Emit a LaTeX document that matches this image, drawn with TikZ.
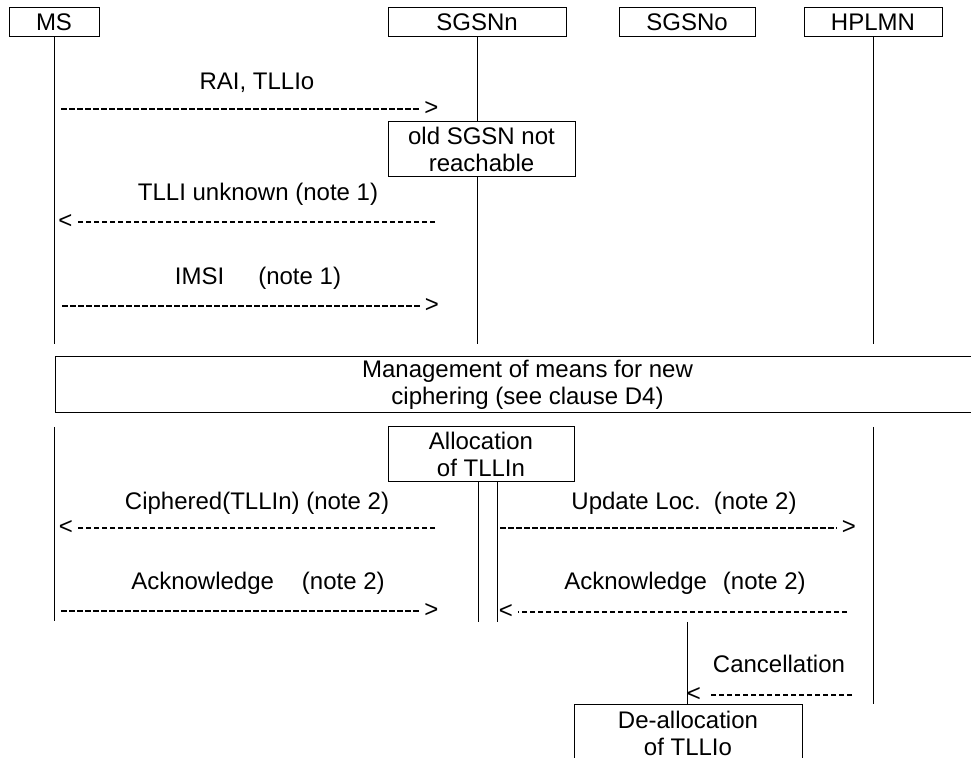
\documentclass[tikz,border=0pt]{standalone}
\usepackage{fontspec}
\setmainfont{Liberation Sans}

\tikzset{
  box/.style={draw, line width=0.5pt, inner sep=0pt, align=center},
  lbl/.style={anchor=base, inner sep=0pt},
  tip/.style={inner xsep=2.5pt, inner ysep=0pt},
  msgline/.style={line width=1pt, dash pattern=on 2.75pt off 1.25pt},
  life/.style={line width=0.5pt}
}

\begin{document}
\begin{tikzpicture}[x=0.5pt, y=-0.5pt, font=\fontsize{12}{13.5}\selectfont]
            \useasboundingbox (0,0) rectangle (971,758);
            \clip (0,0) rectangle (971,758);
            \node[box, minimum width=45pt, minimum height=14.5pt] (ms) at (54,22.5) {MS};
            \node[box, minimum width=89pt, minimum height=14.5pt] (sgsnn) at (477,22.5) {SGSNn};
            \node[box, minimum width=68pt, minimum height=14.5pt] (sgsno) at (687,22.5) {SGSNo};
            \node[box, minimum width=69pt, minimum height=14.5pt] (hplmn) at (873,22.5) {HPLMN};
            \node[box, minimum width=93.5pt, minimum height=27.5pt] (old) at (481.5,149.5) {old SGSN not\\reachable};
            \node[box, minimum width=472.5pt, minimum height=28pt] (mgmt) at (527.5,385) {Management of means for new\\ciphering (see clause D4)};
            \node[box, minimum width=93pt, minimum height=27.5pt] (alloc) at (481,454.5) {Allocation\\of TLLIn};
            \node[box, minimum width=114pt, minimum height=28pt] (dealloc) at (688,733) {De-allocation\\of TLLIo};
            \coordinate (gtop) at (0,344);
            \coordinate (gbot) at (0,427);
            \coordinate (send) at (0,621);
            \coordinate (sn1) at (478,622);
            \coordinate (sn2) at (497,622);
            \draw[life] (ms.south) -- (ms |- gtop);
            \draw[life] (sgsnn.south) -- (sgsnn |- old.north);
            \draw[life] (sgsnn |- old.south) -- (sgsnn |- gtop);
            \draw[life] (hplmn.south) -- (hplmn |- gtop);
            \draw[life] (ms |- gbot) -- (ms |- send);
            \draw[life] (hplmn |- gbot) -- (hplmn |- dealloc.north);
            \draw[life] (sn1 |- alloc.south) -- (sn1);
            \draw[life] (sn2 |- alloc.south) -- (sn2);
            \draw[life] (sgsno |- sn1) -- (sgsno |- dealloc.north);
            \node[lbl] (l1) at (257,90) {RAI, TLLIo};
            \node[tip] (h1) at (431.5,109) {>};
            \coordinate (t1) at (61,109);
            \draw[msgline] (t1) -- (h1.west);
            \node[lbl] (l2) at (258,201) {TLLI unknown (note 1)};
            \node[tip] (h2) at (65.5,222) {<};
            \coordinate (t2) at (435,222);
            \draw[msgline] (t2) -- (h2.east);
            \node[lbl] (l3) at (258,285) {IMSI\hspace{17pt}(note 1)};
            \node[tip] (h3) at (432,306) {>};
            \coordinate (t3) at (62,306);
            \draw[msgline] (t3) -- (h3.west);
            \node[lbl] (l4) at (257,510) {Ciphered(TLLIn) (note 2)};
            \node[tip] (h4) at (66,528) {<};
            \coordinate (t4) at (435,528);
            \draw[msgline] (t4) -- (h4.east);
            \node[lbl] (l5) at (258,590) {Acknowledge\hspace{14pt}(note 2)};
            \node[tip] (h5) at (431.5,611) {>};
            \coordinate (t5) at (61,611);
            \draw[msgline] (t5) -- (h5.west);
            \node[lbl] (l6) at (684,510) {Update Loc.\hspace{6.5pt}(note 2)};
            \node[tip] (h6) at (849,528) {>};
            \coordinate (t6) at (500,528);
            \draw[msgline] (t6) -- (h6.west);
            \node[lbl] (l7) at (685,590) {Acknowledge\hspace{8pt}(note 2)};
            \node[tip] (h7) at (506,612) {<};
            \coordinate (t7) at (847,612);
            \draw[msgline] (t7) -- (h7.east);
            \node[lbl] (l8) at (779,673) {Cancellation};
            \node[tip, inner xsep=5pt] (h8) at (694,695) {<};
            \coordinate (t8) at (852,695);
            \draw[msgline] (t8) -- (h8.east);
        \end{tikzpicture}
\end{document}
